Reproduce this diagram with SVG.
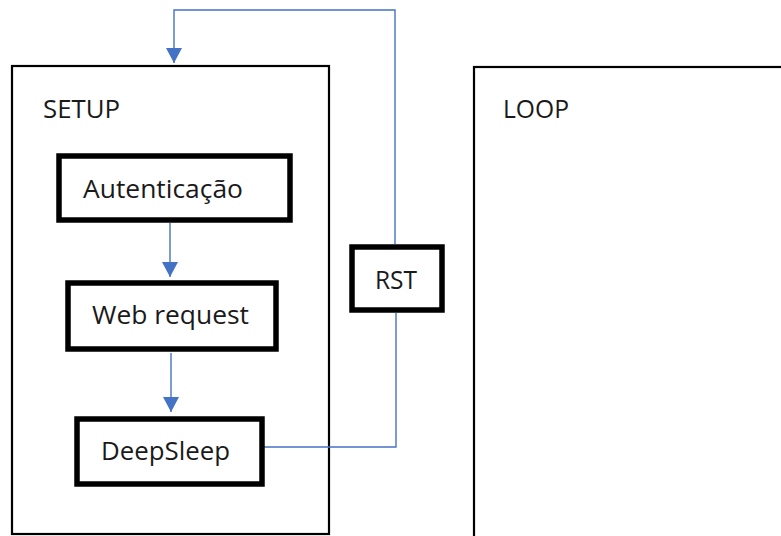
<svg xmlns="http://www.w3.org/2000/svg" width="781" height="536" viewBox="0 0 781 536">
<style>
.frame{fill:none;stroke:#000;stroke-width:2.2}
.box{fill:#fff;stroke:#000;stroke-width:5.5}
.lbl{font-family:"Open Sans","Liberation Sans",sans-serif;font-size:26px;fill:#1a1a1a}
.conn{fill:none;stroke:#4472C4;stroke-width:1.4}
</style>
<defs>
<marker id="ah" markerUnits="userSpaceOnUse" markerWidth="16" markerHeight="16" viewBox="0 0 16 16" refX="15" refY="8" orient="auto">
<path d="M0,0 L15,8 L0,16 Z" fill="#4472C4"/>
</marker>
</defs>
<rect width="781" height="536" fill="#fff"/>
<g id="setup">
<rect class="frame" x="12" y="66" width="317" height="468"/>
<text class="lbl" x="43" y="118" textLength="77" lengthAdjust="spacingAndGlyphs">SETUP</text>
</g>
<g id="loop">
<rect class="frame" x="474" y="67" width="320" height="480"/>
<text class="lbl" x="503" y="118" textLength="66" lengthAdjust="spacingAndGlyphs">LOOP</text>
</g>
<g id="connectors">
<polyline class="conn" points="262,447 396,447 396,313"/>
<polyline class="conn" points="395,244 395,10 174,10 174,63" marker-end="url(#ah)"/>
<line class="conn" x1="170" y1="223" x2="170" y2="277" marker-end="url(#ah)"/>
<line class="conn" x1="171" y1="353" x2="171" y2="412" marker-end="url(#ah)"/>
</g>
<g id="autenticacao">
<rect class="box" x="59" y="156" width="231" height="64"/>
<text class="lbl" x="83" y="198" textLength="160" lengthAdjust="spacingAndGlyphs">Autenticação</text>
</g>
<g id="webrequest">
<rect class="box" x="68" y="283" width="208" height="66"/>
<text class="lbl" x="92" y="324" textLength="157" lengthAdjust="spacingAndGlyphs">Web request</text>
</g>
<g id="deepsleep">
<rect class="box" x="77" y="419" width="185" height="65"/>
<text class="lbl" x="101" y="460" textLength="129" lengthAdjust="spacingAndGlyphs">DeepSleep</text>
</g>
<g id="rst">
<rect class="box" x="352" y="247" width="90" height="63"/>
<text class="lbl" x="375" y="289" textLength="42" lengthAdjust="spacingAndGlyphs">RST</text>
</g>
</svg>
